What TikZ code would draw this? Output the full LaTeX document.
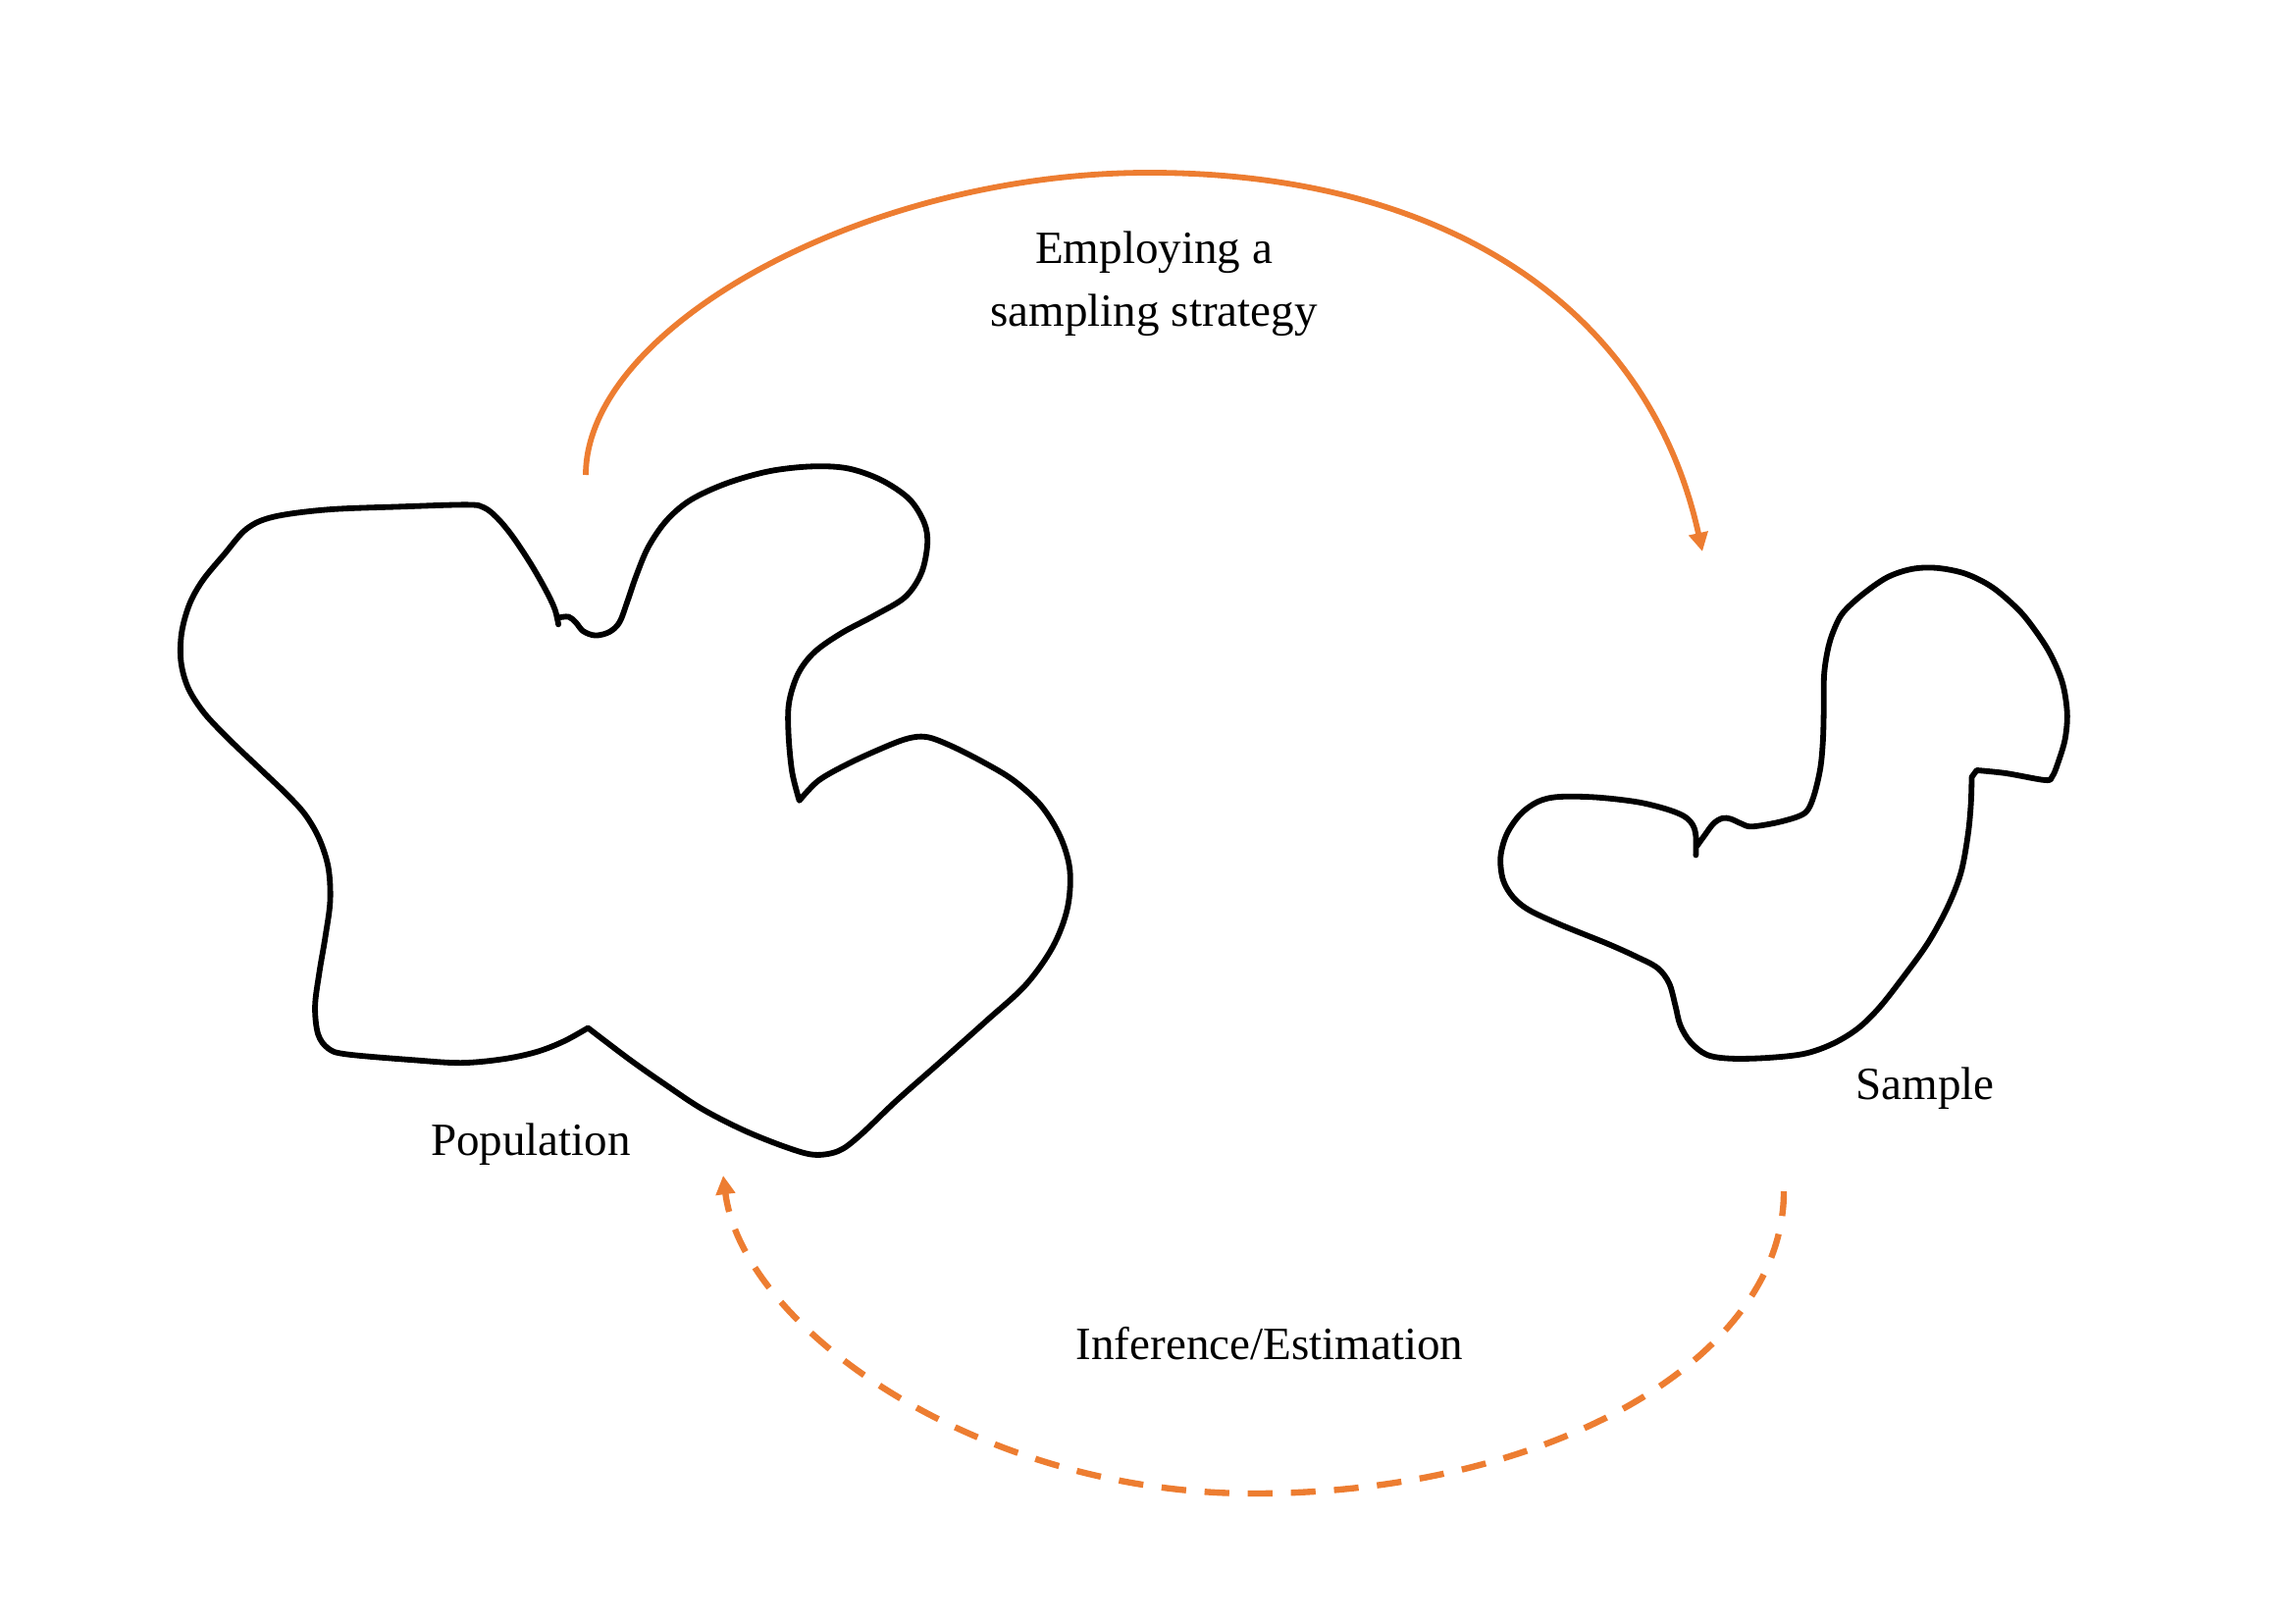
\documentclass[tikz,border=0pt]{standalone}
\usepackage{fontspec}
\setmainfont{Liberation Serif}
\usetikzlibrary{arrows.meta}
\definecolor{accorange}{RGB}{237,125,49}
\tikzset{
  blob/.style={draw=black, line width=2.1pt, line join=round, line cap=round},
  solidarc/.style={draw=accorange, line width=2.1pt, -{Triangle[length=6.9pt,width=6.9pt]}},
  dasharc/.style={draw=accorange, line width=2.3pt, dash pattern=on 9.1pt off 6.8pt, -{Triangle[length=6.9pt,width=6.9pt]}},
  lbl/.style={font=\fontsize{17}{23.3}\selectfont, text=black, inner sep=0pt, anchor=base, align=center}
}
\begin{document}
\begin{tikzpicture}[x=0.012698cm, y=-0.012698cm]
\useasboundingbox (0,0) rectangle (2339,1654);
\fill[white] (0,0) rectangle (2339,1654);

% Population shape
\begin{scope}[shift={(150,450)}, xscale=0.6154, yscale=0.4878]
\draw[blob] plot[smooth, tension=0.55] coordinates {(681,368) (698,366) (710,378) (722,396) (742,405) (765,398) (782,378) (795,335) (810,280) (830,220) (860,165) (900,122) (960,87) (1030,62) (1100,52) (1160,56) (1215,80) (1262,120) (1287,170) (1292,215) (1282,275) (1255,325) (1205,363) (1150,400) (1105,440) (1078,485) (1063,545) (1062,610) (1068,690) (1080,750)}
 -- plot[smooth, tension=0.55] coordinates {(1080,750) (1110,710) (1150,680) (1200,650) (1255,622) (1290,617) (1330,635) (1385,670) (1435,708) (1480,760) (1512,825) (1528,895) (1524,975) (1500,1055) (1455,1135) (1390,1210) (1310,1300) (1240,1378) (1180,1450) (1145,1482) (1105,1490) (1060,1475) (990,1440) (920,1395) (860,1345) (800,1292) (730,1225)}
 -- plot[smooth, tension=0.55] coordinates {(730,1225) (690,1253) (645,1275) (590,1290) (520,1298) (440,1292) (330,1280) (300,1268) (283,1238) (278,1180) (285,1110) (295,1035) (303,960) (300,890) (285,830) (262,780) (232,738) (188,685) (138,625) (95,568) (68,515) (56,460) (57,400) (70,340) (92,290) (128,235) (165,182) (210,157) (300,142) (420,136) (530,132) (558,138) (580,160) (605,198) (635,255) (660,310) (675,350) (681,382)};
\end{scope}

% Sample shape
\begin{scope}[shift={(1500,540)}, xscale=0.4190, yscale=0.3876]
\draw[blob] plot[smooth, tension=0.55] coordinates {(545,855) (545,805) (537,775) (515,752) (470,733) (400,715) (300,703) (210,702) (160,715) (118,748) (85,800) (70,860) (76,920) (100,965) (140,1000) (220,1040) (330,1088) (400,1122) (452,1152) (480,1192) (495,1250) (507,1302) (532,1347) (572,1380) (630,1390) (720,1388) (810,1377) (880,1350) (940,1310) (992,1255) (1050,1175) (1110,1085) (1158,990) (1190,900) (1207,800) (1214,720) (1216,650)}
 -- (1228,632)
 -- plot[smooth, tension=0.55] coordinates {(1228,632) (1300,640) (1395,658) (1412,648) (1425,615) (1443,550) (1448,480) (1436,400) (1405,322) (1362,252) (1325,205) (1265,150) (1200,115) (1130,100) (1070,103) (1010,125) (950,170) (905,215) (885,252) (868,305) (857,380) (856,480) (854,555) (848,625) (834,692) (818,735) (795,753) (740,770) (680,780) (655,772) (630,760) (610,758) (588,772) (565,805) (547,832)};
\end{scope}

% Labels
\node[lbl] (pop) at (541,1177) {Population};
\node[lbl] (samp) at (1962,1120) {Sample};
\node[lbl] (emp) at (1176,333) {Employing a\\sampling strategy};
\node[lbl] (inf) at (1294,1385) {Inference/Estimation};

% Connector end points
\coordinate (s1) at (597,484);
\coordinate (t1) at (1171,176);
\coordinate (e1) at (1735,562);
\coordinate (s2) at (1818,1214);
\coordinate (b2) at (1277,1522);
\coordinate (e2) at (737,1198);

\draw[solidarc] (s1) .. controls +(0,-150) and +(-290,0) .. (t1)
  .. controls +(300,0) and +(-55,-250) .. (e1);
\draw[dasharc] (s2) .. controls +(0,171) and +(301,0) .. (b2)
  .. controls +(-280,0) and +(20,155) .. (e2);
\end{tikzpicture}
\end{document}
